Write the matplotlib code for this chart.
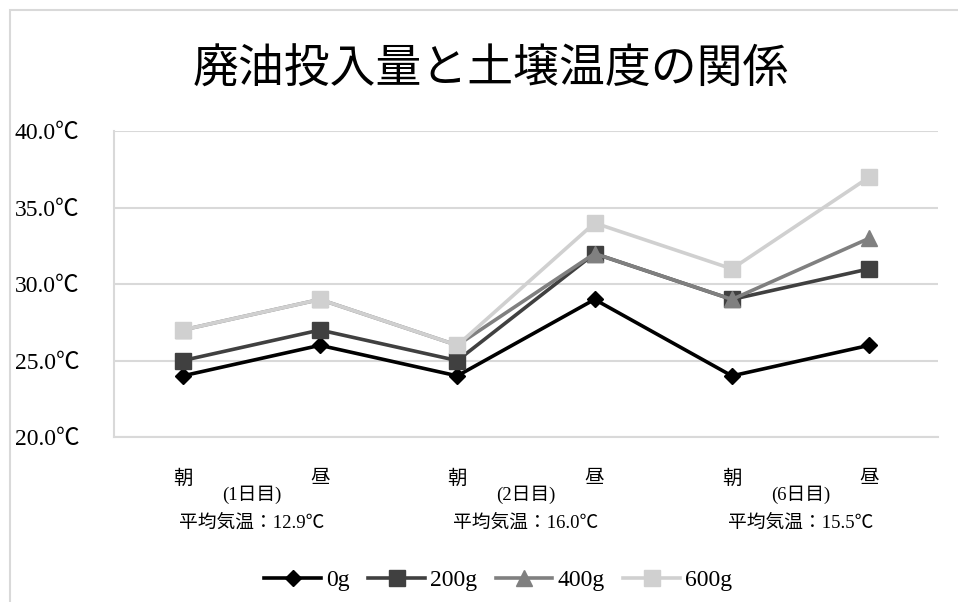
import numpy as np
import matplotlib.pyplot as plt
from matplotlib.patches import Rectangle

plt.rcParams['font.family'] = ['Liberation Serif', 'Noto Sans CJK JP']

# データ
categories = ['朝', '昼', '朝', '昼', '朝', '昼']
day_labels = ['(1日目)', '(2日目)', '(6日目)']
avg_temps = ['平均気温：12.9℃', '平均気温：16.0℃', '平均気温：15.5℃']
series_names = ['0g', '200g', '400g', '600g']
temp_0g = [24, 26, 24, 29, 24, 26]
temp_200g = [25, 27, 25, 32, 29, 31]
temp_400g = [27, 29, 26, 32, 29, 33]
temp_600g = [27, 29, 26, 34, 31, 37]
y_ticks = [20, 25, 30, 35, 40]

fig = plt.figure(figsize=(9.58, 6.02), dpi=100)
ax = fig.add_axes([0.119, 0.274, 0.860, 0.508])

# 外枠
fig.patches.append(Rectangle((10 / 958, -0.1), 1.2, 1.1 - 9.5 / 602,
                             transform=fig.transFigure, fill=False,
                             edgecolor='#d9d9d9', linewidth=1.5))

x = np.arange(len(categories))
colors = ['#000000', '#404040', '#808080', '#d0d0d0']
markers = ['D', 's', '^', 's']
msizes = [8, 11, 11, 12]
for vals, name, c, m, ms in zip([temp_0g, temp_200g, temp_400g, temp_600g],
                                series_names, colors, markers, msizes):
    ax.plot(x, vals, color=c, marker=m, markersize=ms, linewidth=2.6,
            label=name, zorder=3)

ax.set_xlim(-0.5, 5.5)
ax.set_ylim(20, 40)
ax.set_yticks(y_ticks)
ax.set_yticklabels([f'{v:.1f}℃' for v in y_ticks], fontsize=17)
ax.set_xticks([])
ax.tick_params(axis='y', length=0, pad=25)
ax.grid(axis='y', color='#d9d9d9', linewidth=1.5)
ax.set_axisbelow(True)
for s in ['top', 'right']:
    ax.spines[s].set_visible(False)
for s in ['left', 'bottom']:
    ax.spines[s].set_color('#d9d9d9')
    ax.spines[s].set_linewidth(1.5)

# カテゴリラベル
trans = ax.get_xaxis_transform()
for i, c in enumerate(categories):
    ax.text(i, -0.135, c, transform=trans, ha='center', va='center', fontsize=14)
for j in range(3):
    xc = 2 * j + 0.5
    ax.text(xc, -0.19, day_labels[j], transform=trans, ha='center', va='center', fontsize=13.5)
    ax.text(xc, -0.28, avg_temps[j], transform=trans, ha='center', va='center', fontsize=13.5)

fig.text(0.512, 0.885, '廃油投入量と土壌温度の関係', ha='center', va='center',
         fontsize=33, family=['Noto Sans CJK JP'])

fig.legend(loc='center', bbox_to_anchor=(0.52, 0.036), ncol=4, frameon=False,
           fontsize=17, handlelength=2.4, columnspacing=0.8, handletextpad=0.2)

plt.savefig('out.png', dpi=100)
